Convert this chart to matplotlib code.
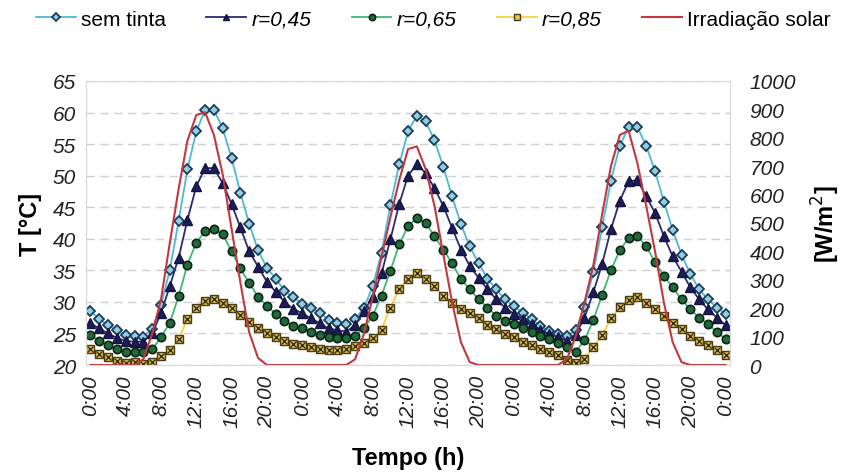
import matplotlib
matplotlib.use("Agg")
import matplotlib.pyplot as plt

# hourly data, 3 days (0:00 day 1 .. 0:00 day 4)
hours = list(range(73))
tick_pos = list(range(0, 73, 4))
tick_labels = ["0:00", "4:00", "8:00", "12:00", "16:00", "20:00"] * 3 + ["0:00"]

sem_tinta = [28.5, 27.3, 26.3, 25.5, 24.8, 24.6, 24.5, 25.7, 29.5, 35.0, 42.8, 51.0, 57.0,
             60.4, 60.4, 57.5, 52.8, 47.3, 42.4, 38.2, 35.4, 33.7, 31.8, 30.7, 29.7,
             29.0, 28.3, 27.2, 26.6, 26.5, 27.3, 29.0, 32.5, 37.8, 45.3, 51.8, 57.0,
             59.5, 58.6, 55.6, 51.4, 46.7, 42.3, 38.8, 36.1, 33.7, 32.0, 30.4, 29.3,
             28.3, 27.3, 26.2, 25.4, 24.9, 24.6, 25.5, 29.2, 34.7, 41.8, 49.2, 54.7,
             57.7, 57.7, 54.7, 50.7, 45.9, 41.4, 37.5, 34.4, 32.0, 30.4, 29.1, 28.1]
r_045 = [26.6, 25.8, 25.0, 24.3, 23.8, 23.7, 23.7, 25.0, 28.2, 32.5, 37.0, 43.0, 48.3,
         51.2, 51.2, 48.8, 45.5, 41.8, 38.0, 35.6, 33.2, 31.6, 30.0, 28.9, 28.2,
         27.4, 26.6, 25.8, 25.5, 25.3, 26.3, 28.5, 30.8, 34.5, 39.9, 45.5, 50.0,
         51.8, 50.4, 48.0, 45.2, 41.7, 38.3, 35.7, 33.8, 32.0, 30.4, 29.1, 28.1,
         27.3, 26.5, 25.6, 24.9, 24.4, 23.8, 24.8, 27.5, 31.5, 36.0, 41.5, 46.0,
         49.1, 49.3, 46.7, 44.1, 40.4, 37.2, 34.8, 32.3, 30.4, 28.8, 27.5, 26.3]
r_065 = [24.8, 23.8, 23.1, 22.5, 22.0, 22.0, 22.0, 22.5, 24.4, 26.7, 30.9, 35.9, 39.4,
         41.2, 41.5, 40.7, 38.0, 35.3, 33.0, 30.8, 29.4, 28.1, 27.0, 26.2, 25.8,
         25.3, 24.8, 24.4, 24.2, 24.2, 24.6, 25.8, 27.8, 31.0, 34.9, 39.1, 42.0,
         43.3, 42.5, 40.4, 38.3, 36.1, 33.6, 32.0, 30.4, 29.1, 27.8, 27.0, 26.5,
         25.9, 25.2, 24.6, 24.1, 23.5, 22.8, 22.1, 23.9, 27.1, 31.1, 35.0, 38.2,
         40.1, 40.4, 38.8, 36.3, 34.1, 32.3, 30.4, 28.8, 27.5, 26.5, 25.2, 24.1]
r_085 = [22.5, 21.7, 21.2, 20.7, 20.3, 20.4, 20.2, 20.4, 21.5, 22.3, 24.1, 27.3, 29.1,
         30.2, 30.4, 29.9, 29.0, 27.9, 26.8, 25.8, 25.0, 24.4, 23.8, 23.4, 23.1,
         22.9, 22.6, 22.4, 22.4, 22.6, 23.0, 23.5, 24.2, 25.6, 29.1, 32.0, 33.7,
         34.5, 33.6, 32.5, 30.9, 29.9, 28.8, 28.3, 27.5, 26.4, 25.7, 24.9, 24.4,
         23.7, 23.2, 22.6, 22.1, 21.6, 20.8, 20.3, 21.0, 22.9, 24.7, 27.4, 29.2,
         30.3, 30.8, 29.8, 28.8, 27.8, 26.7, 25.7, 24.6, 23.8, 23.1, 22.3, 21.6]
irradiacao = [0, 0, 0, 0, 0, 0, 20, 110, 230, 430, 620, 790, 880,
              890, 810, 670, 480, 290, 115, 25, 0, 0, 0, 0, 0,
              0, 0, 0, 0, 0, 20, 110, 240, 380, 520, 650, 760,
              770, 690, 560, 390, 220, 80, 10, 0, 0, 0, 0, 0,
              0, 0, 0, 0, 0, 20, 100, 220, 350, 530, 700, 810,
              825, 710, 560, 400, 220, 80, 10, 0, 0, 0, 0, 0]

plt.rcParams['font.family'] = ['Liberation Sans', 'DejaVu Sans']

fig = plt.figure(figsize=(8.43, 4.77), dpi=100)
ax = fig.add_axes([0.102, 0.2327, 0.764, 0.5954])

ax.plot(hours, sem_tinta, color='#4db8d6', lw=1.3, marker='D', ms=5.5,
        mfc='#8fcfe3', mec='#1d3b57', mew=1.3, label='sem tinta')
ax.plot(hours, r_045, color='#2a2a78', lw=1.3, marker='^', ms=6.5,
        mfc='#1c1c5a', mec='#14143f', mew=1, label='r=0,45')
ax.plot(hours, r_065, color='#3fb877', lw=1.3, marker='o', ms=6,
        mfc='#1f6b3a', mec='#0d2415', mew=1.2, label='r=0,65')
ax.plot(hours, r_085, color='#f2d33a', lw=1.3, marker='s', ms=6,
        mfc='#e8c64e', mec='#4a3c14', mew=1, label='r=0,85')
ax.plot(hours, r_085, ls='none', marker='x', ms=3.8, mec='#3a2f10', mew=1)

ax.set_xlim(-0.5, 72.5)
ax.set_ylim(20, 65)
ax.set_yticks(range(20, 70, 5))
ax.set_xticks(tick_pos)
ax.set_xticklabels(tick_labels, rotation=90, fontstyle='italic', fontsize=15)
for t in ax.get_yticklabels():
    t.set_fontstyle('italic')
    t.set_fontsize(15)
ax.tick_params(axis='both', length=0, pad=7, colors='#222222')
ax.yaxis.grid(True, color='#d0d0d0', ls=(0, (6, 4)), lw=1)
for s in ax.spines.values():
    s.set_color('#d9d9d9')
ax.set_ylabel('T [°C]', fontsize=17, fontweight='bold', labelpad=8)
ax.set_xlabel('Tempo (h)', fontsize=17, fontweight='bold', labelpad=14)

ax2 = ax.twinx()
ax2.plot(hours, irradiacao, color='#c2383f', lw=1.5, label='Irradiação solar')
ax2.set_ylim(0, 1000)
ax2.set_yticks(range(0, 1100, 100))
for t in ax2.get_yticklabels():
    t.set_fontstyle('italic')
    t.set_fontsize(15)
ax2.tick_params(axis='y', length=0, pad=14, colors='#222222')
for s in ax2.spines.values():
    s.set_color('#d9d9d9')
ax2.set_ylabel('[W/m$^2$]', fontsize=17, fontweight='bold', labelpad=10)

handles = ax.get_lines()[:4] + ax2.get_lines()
labels = ['sem tinta', 'r=0,45', 'r=0,65', 'r=0,85', 'Irradiação solar']
leg = fig.legend(handles, labels, loc='center', bbox_to_anchor=(0.514, 0.958),
                 ncol=5, frameon=False, handlelength=1.9, handletextpad=0.25,
                 columnspacing=1.95, markerscale=0.75, fontsize=15)
for t in leg.get_texts()[1:4]:
    t.set_fontstyle('italic')

fig.savefig('out.png', dpi=100)
